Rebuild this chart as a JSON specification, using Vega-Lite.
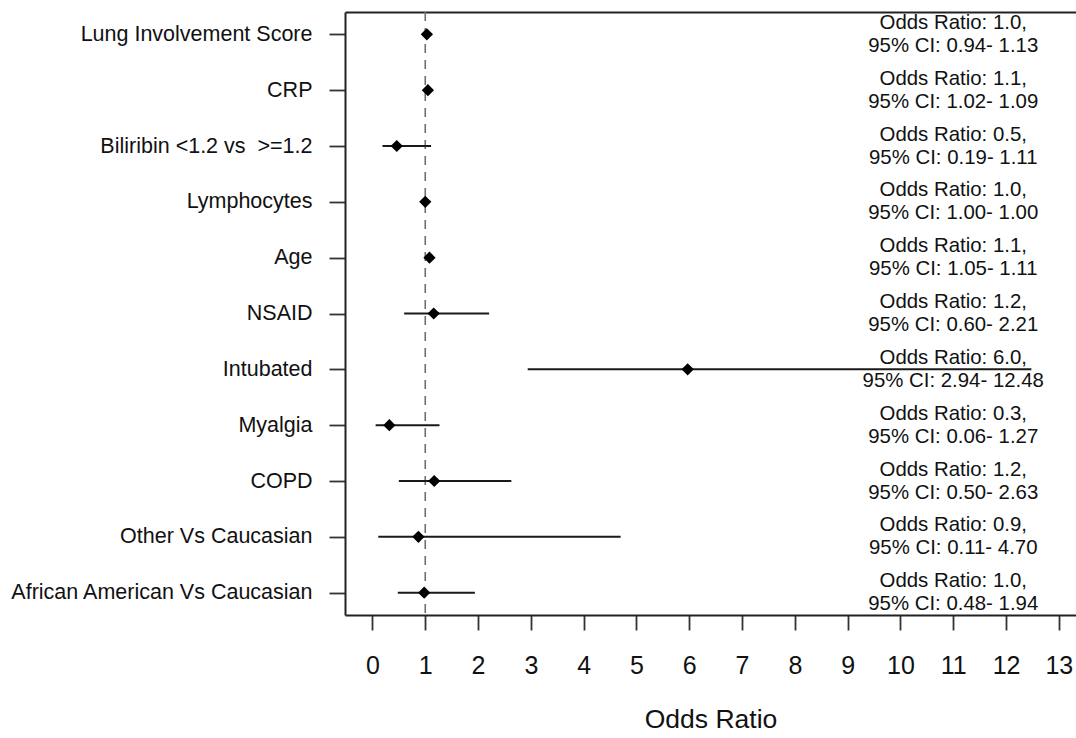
{
  "$schema": "https://vega.github.io/schema/vega-lite/v6.json",
  "width": 731,
  "height": 603,
  "autosize": {"type": "none"},
  "padding": {"left": 345, "top": 12, "right": 0, "bottom": 123},
  "background": "white",
  "config": {"view": {"stroke": null}, "font": "Liberation Sans"},
  "datasets": {
    "rows": [
      {"variable": "Lung Involvement Score", "or": 1.03, "lo": 0.94, "hi": 1.13, "annotation": "Odds Ratio: 1.0,\n95% CI: 0.94- 1.13"},
      {"variable": "CRP", "or": 1.05, "lo": 1.02, "hi": 1.09, "annotation": "Odds Ratio: 1.1,\n95% CI: 1.02- 1.09"},
      {"variable": "Biliribin <1.2 vs \u00a0>=1.2", "or": 0.46, "lo": 0.19, "hi": 1.11, "annotation": "Odds Ratio: 0.5,\n95% CI: 0.19- 1.11"},
      {"variable": "Lymphocytes", "or": 1.0, "lo": 1.0, "hi": 1.0, "annotation": "Odds Ratio: 1.0,\n95% CI: 1.00- 1.00"},
      {"variable": "Age", "or": 1.08, "lo": 1.05, "hi": 1.11, "annotation": "Odds Ratio: 1.1,\n95% CI: 1.05- 1.11"},
      {"variable": "NSAID", "or": 1.16, "lo": 0.6, "hi": 2.21, "annotation": "Odds Ratio: 1.2,\n95% CI: 0.60- 2.21"},
      {"variable": "Intubated", "or": 5.97, "lo": 2.94, "hi": 12.48, "annotation": "Odds Ratio: 6.0,\n95% CI: 2.94- 12.48"},
      {"variable": "Myalgia", "or": 0.32, "lo": 0.06, "hi": 1.27, "annotation": "Odds Ratio: 0.3,\n95% CI: 0.06- 1.27"},
      {"variable": "COPD", "or": 1.17, "lo": 0.5, "hi": 2.63, "annotation": "Odds Ratio: 1.2,\n95% CI: 0.50- 2.63"},
      {"variable": "Other Vs Caucasian", "or": 0.87, "lo": 0.11, "hi": 4.7, "annotation": "Odds Ratio: 0.9,\n95% CI: 0.11- 4.70"},
      {"variable": "African American Vs Caucasian", "or": 0.98, "lo": 0.48, "hi": 1.94, "annotation": "Odds Ratio: 1.0,\n95% CI: 0.48- 1.94"}
    ],
    "reference": [{"ref": 1}]
  },
  "resolve": {"axis": {"x": "independent"}},
  "layer": [
    {
      "data": {"name": "reference"},
      "mark": {"type": "rule", "stroke": "#707070", "strokeWidth": 1.6, "strokeDash": [9, 7]},
      "encoding": {
        "x": {
          "field": "ref", "type": "quantitative",
          "scale": {"domain": [-0.52, 13.325], "nice": false, "zero": false},
          "axis": {
            "orient": "bottom", "values": [0,1,2,3,4,5,6,7,8,9,10,11,12,13],
            "grid": false, "domain": true, "domainColor": "#222", "domainWidth": 2,
            "ticks": true, "tickSize": 15, "tickColor": "#333", "tickWidth": 1.8,
            "labelFontSize": 25, "labelColor": "#111", "labelPadding": 23, "labelFlush": false,
            "title": "Odds Ratio", "titleFontSize": 26.5, "titleFontWeight": "normal", "titleColor": "#111", "titlePadding": 28
          }
        }
      }
    },
    {
      "data": {"name": "reference"},
      "mark": {"type": "rule", "opacity": 0},
      "encoding": {
        "x": {
          "field": "ref", "type": "quantitative",
          "scale": {"domain": [-0.52, 13.325], "nice": false, "zero": false},
          "axis": {"orient": "top", "grid": false, "labels": false, "ticks": false, "title": null, "domain": true, "domainColor": "#222", "domainWidth": 2}
        }
      }
    },
    {
      "data": {"name": "rows"},
      "mark": {"type": "rule", "stroke": "#1a1a1a", "strokeWidth": 2},
      "encoding": {
        "x": {"field": "lo", "type": "quantitative", "scale": {"domain": [-0.52, 13.325], "nice": false, "zero": false}, "axis": null},
        "x2": {"field": "hi"},
        "y": {
          "field": "variable", "type": "nominal", "sort": null,
          "scale": {"type": "point", "padding": 0.4},
          "axis": {"title": null, "grid": false, "domain": true, "domainColor": "#222", "domainWidth": 2, "ticks": true, "tickSize": 16, "tickColor": "#333", "tickWidth": 1.8, "labelFontSize": 21.5, "labelColor": "#111", "labelPadding": 17, "labelLimit": 400}
        }
      }
    },
    {
      "data": {"name": "rows"},
      "mark": {"type": "point", "shape": "diamond", "filled": true, "color": "#000", "size": 150, "opacity": 1},
      "encoding": {
        "x": {"field": "or", "type": "quantitative", "scale": {"domain": [-0.52, 13.325], "nice": false, "zero": false}, "axis": null},
        "y": {
          "field": "variable", "type": "nominal", "sort": null,
          "scale": {"type": "point", "padding": 0.4},
          "axis": {"title": null, "grid": false, "domain": true, "domainColor": "#222", "domainWidth": 2, "ticks": true, "tickSize": 16, "tickColor": "#333", "tickWidth": 1.8, "labelFontSize": 21.5, "labelColor": "#111", "labelPadding": 17, "labelLimit": 400}
        }
      }
    },
    {
      "data": {"name": "rows"},
      "mark": {"type": "text", "align": "center", "baseline": "middle", "fontSize": 20.4, "lineBreak": "\n", "lineHeight": 23, "dy": -11.5, "color": "#111"},
      "encoding": {
        "x": {"datum": 11, "type": "quantitative", "scale": {"domain": [-0.52, 13.325], "nice": false, "zero": false}, "axis": null},
        "y": {
          "field": "variable", "type": "nominal", "sort": null,
          "scale": {"type": "point", "padding": 0.4},
          "axis": {"title": null, "grid": false, "domain": true, "domainColor": "#222", "domainWidth": 2, "ticks": true, "tickSize": 16, "tickColor": "#333", "tickWidth": 1.8, "labelFontSize": 21.5, "labelColor": "#111", "labelPadding": 17, "labelLimit": 400}
        },
        "text": {"field": "annotation"}
      }
    }
  ]
}
